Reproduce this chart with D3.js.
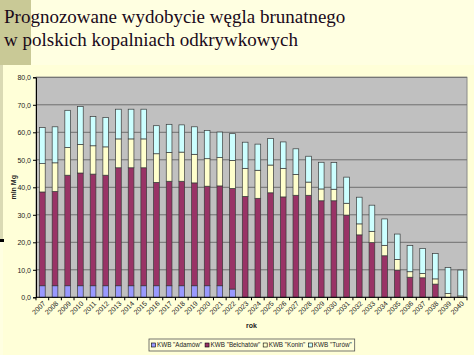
<!DOCTYPE html>
<html><head><meta charset="utf-8">
<script src="https://cdn.jsdelivr.net/npm/d3@7"></script>
<style>html,body{margin:0;padding:0;background:#FFFFE1;}svg{display:block;}</style>
</head><body>
<svg id="c" width="474" height="355"></svg>
<script>
const years = ["2007","2008","2009","2010","2011","2012","2013","2014","2015","2016","2017","2018","2019","2020","2021","2022","2023","2024","2025","2026","2027","2028","2029","2030","2031","2032","2033","2034","2035","2036","2037","2038","2039","2040"];
const adamow   = [4.2,4.2,4.2,4.2,4.2,4.2,4.2,4.2,4.2,4.2,4.2,4.2,4.2,4.2,4.2,3.0,0,0,0,0,0,0,0,0,0,0,0,0,0,0,0,0,0,0];
const belchatow= [34.1,34.3,40.2,41.0,40.6,40.2,42.9,42.9,42.9,37.6,38.0,38.0,37.4,36.2,36.3,36.6,36.7,36.0,38.0,36.5,37.1,37.1,35.1,35.1,29.9,22.7,19.9,15.1,9.9,7.3,7.1,4.8,0,0];
const konin    = [10.3,10.4,10.1,10.4,10.3,10.3,10.5,10.5,10.5,10.4,10.5,10.6,10.4,10.0,10.3,10.2,10.2,10.2,10.1,10.4,7.6,4.8,4.3,4.2,4.3,4.0,4.1,3.8,3.9,2.0,1.6,1.9,1.4,0.5];
const turow    = [13.1,13.1,13.5,13.8,10.6,10.7,10.8,10.8,10.8,10.2,10.2,9.9,10.0,10.3,9.3,9.7,9.5,9.5,9.6,9.6,9.3,9.4,9.7,9.7,9.5,9.7,9.5,9.6,9.2,9.5,9.1,9.2,9.4,9.4];
const seriesNames = ['KWB "Adamów"','KWB "Bełchatów"','KWB "Konin"','KWB "Turów"'];
const yTicks = [0,10,20,30,40,50,60,70,80];
const titleLines = ["Prognozowane wydobycie węgla brunatnego","w polskich kopalniach odkrywkowych"];
const colors = ["#9999FF","#993366","#FFFFCC","#CCFFFF"];

const svg = d3.select("#c");
svg.append("rect").attr("x",0).attr("y",0).attr("width",474).attr("height",355).attr("fill","#FFFFE1");
svg.append("rect").attr("x",0).attr("y",0).attr("width",31).attr("height",65).attr("fill","#C9C996");
svg.append("rect").attr("x",3).attr("y",65).attr("width",471).attr("height",290).attr("fill","#FFFFD8");
svg.append("rect").attr("x",0).attr("y",65).attr("width",3).attr("height",175).attr("fill","#DADAB4");
svg.append("rect").attr("x",0).attr("y",239).attr("width",4).attr("height",3).attr("fill","#000");

svg.append("g").selectAll("text").data(titleLines).join("text")
  .attr("x",4).attr("y",(d,i)=>23+i*23)
  .attr("font-family","'Liberation Serif','Times New Roman',serif")
  .attr("font-size",19).attr("fill","#1a0a1a").text(d=>d);

const m = {l:36, r:467, t:77.3, b:297.3};
const x = d3.scaleBand().domain(years).range([m.l,m.r]).paddingInner(0.55).paddingOuter(0.275);
const y = d3.scaleLinear().domain([0,80]).range([m.b,m.t]);

svg.append("rect").attr("x",m.l).attr("y",m.t).attr("width",m.r-m.l).attr("height",m.b-m.t)
  .attr("fill","#C0C0C0").attr("stroke","#8a8a8a").attr("stroke-width",1);

svg.append("g").selectAll("line").data(yTicks.slice(1)).join("line")
  .attr("x1",m.l).attr("x2",m.r).attr("y1",d=>y(d)).attr("y2",d=>y(d))
  .attr("stroke","#6e6e6e").attr("stroke-width",1);

const table = years.map((yr,i)=>({year:yr, a:adamow[i], b:belchatow[i], k:konin[i], t:turow[i]}));
const stack = d3.stack().keys(["a","b","k","t"])(table);
svg.append("g").selectAll("g").data(stack).join("g")
  .attr("fill",(d,i)=>colors[i])
  .selectAll("rect").data(d=>d.filter(p=>p[1]-p[0]>0.01)).join("rect")
  .attr("x",d=>x(d.data.year)).attr("width",x.bandwidth())
  .attr("y",d=>y(d[1])).attr("height",d=>y(d[0])-y(d[1]))
  .attr("stroke","#3a3a3a").attr("stroke-width",0.7);

const yAxis = d3.axisLeft(y).tickValues(yTicks).tickSize(3).tickPadding(2)
  .tickFormat(d=>d3.format(".1f")(d).replace(".",","));
const ga = svg.append("g").attr("transform",`translate(${m.l},0)`).call(yAxis);
ga.select(".domain").attr("stroke","#000");
ga.selectAll(".tick line").attr("stroke","#000");
ga.selectAll("text").attr("font-family","Arial,'Liberation Sans',sans-serif").attr("font-size",7).attr("fill","#222");

const xb = d3.scaleLinear().domain([0,years.length]).range([m.l,m.r]);
svg.append("line").attr("x1",m.l).attr("x2",m.r).attr("y1",m.b).attr("y2",m.b).attr("stroke","#000");
svg.append("g").selectAll("line").data(d3.range(years.length+1)).join("line")
  .attr("x1",d=>xb(d)).attr("x2",d=>xb(d)).attr("y1",m.b).attr("y2",m.b+3).attr("stroke","#000");
svg.append("g").selectAll("text").data(years).join("text")
  .attr("transform",d=>`translate(${x(d)+x.bandwidth()/2+2},${m.b+5}) rotate(-45)`)
  .attr("text-anchor","end").attr("dy","0.35em")
  .attr("font-family","Arial,'Liberation Sans',sans-serif").attr("font-size",7).attr("fill","#222")
  .text(d=>d);

svg.append("text").attr("x",(m.l+m.r)/2).attr("y",328).attr("text-anchor","middle")
  .attr("font-family","Arial,'Liberation Sans',sans-serif").attr("font-size",7).attr("font-weight","bold").attr("fill","#222").text("rok");
svg.append("text").attr("transform",`translate(16,${(m.t+m.b)/2}) rotate(-90)`).attr("text-anchor","middle")
  .attr("font-family","Arial,'Liberation Sans',sans-serif").attr("font-size",7).attr("font-weight","bold").attr("fill","#222").text("mln Mg");

const lg = svg.append("g");
const box = lg.append("rect").attr("x",149).attr("y",339).attr("height",12).attr("fill","#FFFFD8").attr("stroke","#555").attr("stroke-width",0.8);
let cx = 151.5;
seriesNames.forEach((name,i)=>{
  const g = lg.append("g").attr("transform",`translate(${cx},345)`);
  g.append("rect").attr("x",0).attr("y",-2).attr("width",4).attr("height",4).attr("fill",colors[i]).attr("stroke","#000").attr("stroke-width",0.6);
  const t = g.append("text").attr("x",5.5).attr("y",0).attr("dy","0.35em")
    .attr("font-family","Arial,'Liberation Sans',sans-serif").attr("font-size",6.3).attr("fill","#222").text(name);
  const w = t.node().getComputedTextLength();
  cx += 5.5 + w + 3;
});
box.attr("width",cx - 149);
</script>
</body></html>
